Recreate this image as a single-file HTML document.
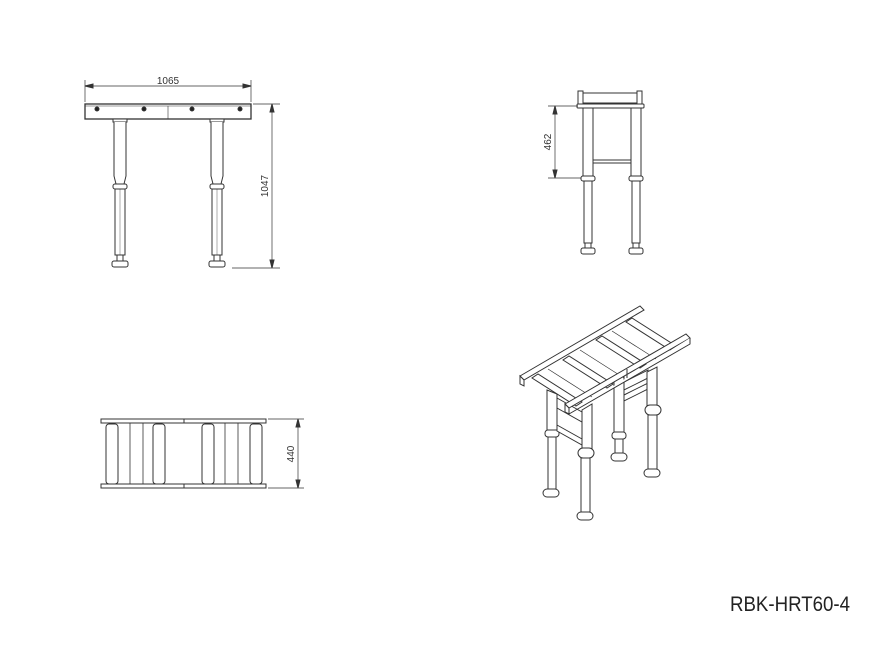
<!DOCTYPE html>
<html><head><style>body{margin:0;background:#fff}svg{display:block}</style></head><body>
<svg width="891" height="660" viewBox="0 0 891 660" xmlns="http://www.w3.org/2000/svg" font-family="Liberation Sans Narrow, Liberation Sans, sans-serif">
<g stroke="#333" stroke-width="1" fill="#fff">
<!-- FRONT VIEW -->
<line x1="85" y1="80" x2="85" y2="102" stroke-width="0.7"/>
<line x1="251" y1="80" x2="251" y2="102" stroke-width="0.7"/>
<line x1="85" y1="86" x2="251" y2="86" stroke-width="0.7"/>
<path d="M85 86 l8 -2 v4z M251 86 l-8 -2 v4z" fill="#333"/>
<rect x="85" y="104" width="166" height="15" stroke-width="1.3"/>
<line x1="85" y1="106" x2="251" y2="106" stroke-width="0.6"/>
<line x1="168" y1="106" x2="168" y2="119" stroke-width="0.6"/>
<g fill="#222"><circle cx="97" cy="109" r="2"/><circle cx="144" cy="109" r="2"/><circle cx="192" cy="109" r="2"/><circle cx="240" cy="109" r="2"/></g>
<g id="lg">
<rect x="113" y="119" width="14" height="3"/>
<path d="M114 122 V176 L116 184 H124 L126 176 V122"/>
<rect x="113" y="184" width="14" height="5" rx="2"/>
<rect x="115" y="189" width="10" height="66"/>
<line x1="120" y1="189" x2="120" y2="255" stroke-width="0.4"/>
<rect x="117" y="255" width="6" height="6"/>
<rect x="112" y="261" width="16" height="6" rx="2"/>
</g>
<use href="#lg" x="97"/>
<line x1="253" y1="104" x2="280" y2="104" stroke-width="0.7"/>
<line x1="232" y1="268" x2="280" y2="268" stroke-width="0.7"/>
<line x1="272" y1="104" x2="272" y2="268" stroke-width="0.7"/>
<path d="M272 104 l-2 8 h4z M272 268 l-2 -8 h4z" fill="#333"/>

<!-- SIDE VIEW -->
<rect x="582" y="93" width="56" height="10"/>
<rect x="578" y="91" width="5" height="13"/><rect x="637" y="91" width="5" height="13"/>
<rect x="577" y="104" width="67" height="4" rx="1"/>
<rect x="583" y="108" width="10" height="69"/>
<rect x="631" y="108" width="10" height="69"/>
<rect x="593" y="108" width="38" height="55"/>
<line x1="593" y1="160" x2="631" y2="160"/>
<rect x="581" y="176" width="14" height="5" rx="2"/><rect x="629" y="176" width="14" height="5" rx="2"/>
<rect x="584" y="181" width="8" height="62"/><rect x="632" y="181" width="8" height="62"/>
<rect x="585" y="243" width="6" height="5"/><rect x="633" y="243" width="6" height="5"/>
<rect x="581" y="248" width="14" height="6" rx="2"/><rect x="629" y="248" width="14" height="6" rx="2"/>
<line x1="548" y1="106" x2="578" y2="106" stroke-width="0.7"/>
<line x1="548" y1="178" x2="581" y2="178" stroke-width="0.7"/>
<line x1="555" y1="106" x2="555" y2="178" stroke-width="0.7"/>
<path d="M555 106 l-2 8 h4z M555 178 l-2 -8 h4z" fill="#333"/>

<!-- TOP VIEW -->
<rect x="101" y="419" width="165" height="4"/>
<rect x="101" y="484" width="165" height="4"/>
<line x1="184" y1="419" x2="184" y2="423"/><line x1="184" y1="484" x2="184" y2="488"/>
<g stroke-width="0.8"><line x1="130" y1="423" x2="130" y2="484"/><line x1="143" y1="423" x2="143" y2="484"/><line x1="225" y1="423" x2="225" y2="484"/><line x1="238" y1="423" x2="238" y2="484"/></g>
<rect x="106" y="424" width="12" height="60" rx="3"/>
<rect x="153" y="424" width="12" height="60" rx="3"/>
<rect x="202" y="424" width="12" height="60" rx="3"/>
<rect x="250" y="424" width="12" height="60" rx="3"/>
<line x1="268" y1="419" x2="304" y2="419" stroke-width="0.7"/>
<line x1="268" y1="488" x2="304" y2="488" stroke-width="0.7"/>
<line x1="298" y1="419" x2="298" y2="488" stroke-width="0.7"/>
<path d="M298 419 l-2 8 h4z M298 488 l-2 -8 h4z" fill="#333"/>

<!-- ISO VIEW -->
<!-- back right leg -->
<path d="M614 380 v54 h10 v-60z"/><rect x="612" y="432" width="14" height="7" rx="3"/>
<path d="M615 439 v14 h8 v-14z"/><rect x="611" y="453" width="16" height="8" rx="4"/>
<!-- back left leg -->
<path d="M547 390 v40 h10 v-36z"/><rect x="545" y="430" width="14" height="7" rx="3"/>
<path d="M548 437 v52 h8 v-52z"/><rect x="543" y="489" width="16" height="8" rx="4"/>
<!-- frames -->
<path d="M557 398 l25 14 v10 l-25 -14z"/>
<path d="M557 425 l25 14 v6 l-25 -14z"/>
<path d="M624 382 l24 -12 v8 l-24 12z"/>
<path d="M624 395 l24 -12 v6 l-24 12z"/>
<!-- back rail -->
<path d="M520 376 L640 306 L644 310 L524 380z"/>
<path d="M520 376 v8 l4 2 v-6z"/>
<!-- rollers -->
<path d="M532 378 l44 28 l6 -4 l-44 -28z"/>
<path d="M563 360 l44 28 l6 -4 l-44 -28z"/>
<path d="M596 340 l44 28 l6 -4 l-44 -28z"/>
<path d="M626 322 l44 28 l6 -4 l-44 -28z"/>
<line x1="548" y1="369" x2="592" y2="397" stroke-width="0.7"/>
<line x1="580" y1="350" x2="624" y2="378" stroke-width="0.7"/>
<line x1="612" y1="331" x2="656" y2="359" stroke-width="0.7"/>
<!-- front legs -->
<path d="M582 410 v40 h10 v-46z"/><rect x="578" y="448" width="16" height="10" rx="5"/>
<path d="M581 458 v54 h9 v-54z"/><rect x="577" y="512" width="16" height="8" rx="4"/>
<path d="M647 372 v35 h10 v-40z"/><rect x="645" y="405" width="16" height="10" rx="5"/>
<path d="M648 415 v54 h9 v-54z"/><rect x="644" y="469" width="16" height="8" rx="4"/>
<!-- front rail -->
<path d="M565 404 L686 334 L690 338 L569 408z"/>
<path d="M565 404 v8 l4 2 v-6z M569 414 L690 344 L690 338"/>
<line x1="627" y1="369" x2="627" y2="378"/>
</g>
<text x="168" y="84" font-size="10" fill="#333" text-anchor="middle">1065</text>
<text transform="translate(268 186) rotate(-90)" font-size="10" fill="#333" text-anchor="middle">1047</text>
<text transform="translate(551 142) rotate(-90)" font-size="10" fill="#333" text-anchor="middle">462</text>
<text transform="translate(294 454) rotate(-90)" font-size="10" fill="#333" text-anchor="middle">440</text>
<text x="730" y="611" font-size="21" fill="#222" textLength="120" lengthAdjust="spacingAndGlyphs">RBK-HRT60-4</text>
</svg>
</body></html>
